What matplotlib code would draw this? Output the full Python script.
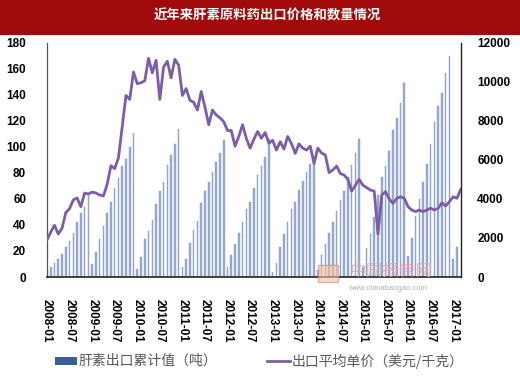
import matplotlib
matplotlib.use('Agg')
import matplotlib.pyplot as plt
from matplotlib.patches import Rectangle
from matplotlib.lines import Line2D

plt.rcParams['font.family'] = ['Liberation Sans', 'Noto Sans CJK SC', 'DejaVu Sans']

# ---- data ----
title = "近年来肝素原料药出口价格和数量情况"
bar_label = "肝素出口累计值（吨）"
line_label = "出口平均单价（美元/千克）"

vol_2008 = [5, 8, 10.5, 13.5, 18, 23, 28, 34, 42, 49, 54, 63]
vol_2009 = [10, 19, 29, 39, 49, 58, 68, 76, 85, 91, 100, 111]
vol_2010 = [6, 15, 29, 35, 44, 56, 66, 73, 86, 94, 102, 114]
vol_2011 = [8, 14, 26, 36, 43, 57, 66, 73, 81, 88, 95, 105]
vol_2012 = [8, 17, 25, 34, 42, 52, 58, 68, 78, 85, 92, 106]
vol_2013 = [4, 11, 23, 33, 42, 52, 58, 67, 74, 81, 87, 91]
vol_2014 = [5, 17, 25, 34, 42, 51, 59, 66, 77, 86, 95, 106]
vol_2015 = [8, 22, 33, 46, 63, 77, 85, 97, 113, 122, 134, 149]
vol_2016 = [16, 30, 47, 60, 73, 87, 102, 119, 131, 141, 157, 170]
vol_2017 = [14, 23]

price_2008 = [1900, 2300, 2650, 2200, 2500, 3300, 3500, 3950, 4050, 3600, 4300, 4250]
price_2009 = [4350, 4300, 4200, 4150, 4750, 5700, 5550, 6100, 7700, 9300, 9100, 10500]
price_2010 = [9900, 9950, 10050, 11200, 10450, 11100, 9100, 10750, 11050, 10200, 11150, 10850]
price_2011 = [9300, 9650, 9050, 8950, 8550, 9500, 8700, 7800, 8550, 8300, 8150, 7950]
price_2012 = [7500, 7500, 6700, 7200, 7800, 7100, 6600, 7050, 7450, 7100, 7400, 6850]
price_2013 = [7000, 6500, 6930, 6550, 7200, 6830, 6330, 6820, 6600, 6500, 6700, 5820]
price_2014 = [6600, 6350, 6250, 5350, 5480, 5680, 5300, 5220, 5000, 4400, 4700, 5000]
price_2015 = [4700, 4580, 4450, 4400, 2200, 4200, 4370, 4000, 3770, 4030, 4110, 4030]
price_2016 = [3600, 3430, 3350, 3430, 3350, 3430, 3520, 3430, 3520, 3800, 3640, 3860]
price_2017 = [4110, 4030, 4490]

tick_labels = ["2008-01", "2008-07", "2009-01", "2009-07", "2010-01", "2010-07",
               "2011-01", "2011-07", "2012-01", "2012-07", "2013-01", "2013-07",
               "2014-01", "2014-07", "2015-01", "2015-07", "2016-01", "2016-07",
               "2017-01"]

volume = (vol_2008 + vol_2009 + vol_2010 + vol_2011 + vol_2012 + vol_2013 +
          vol_2014 + vol_2015 + vol_2016 + vol_2017)
price = (price_2008 + price_2009 + price_2010 + price_2011 + price_2012 +
         price_2013 + price_2014 + price_2015 + price_2016 + price_2017)
xb = list(range(len(volume)))
xl = list(range(len(price)))

# ---- figure ----
W, H = 520, 381
fig = plt.figure(figsize=(W / 100, H / 100), dpi=100)
fig.patches.append(Rectangle((0, 1 - 35 / H), 1, 35 / H, transform=fig.transFigure,
                             facecolor='#a10a0a', edgecolor='none', zorder=0))
fig.text(267 / W, 1 - 16 / H, title, color='white', fontsize=9.6, fontweight='bold',
         ha='center', va='center', family=['Noto Sans CJK SC', 'DejaVu Sans'])

left, right, bottom, top = 47 / W, 460.7 / W, 1 - 277 / H, 1 - 42.7 / H
ax = fig.add_axes([left, bottom, right - left, top - bottom])
ax.bar(xb, volume, width=0.42, color='#9aaccc', edgecolor='#8a9dc2', linewidth=0.3, zorder=2)
ax.set_xlim(0, len(price) - 1)
ax.set_ylim(0, 180)
ax.set_yticks(range(0, 181, 20))
ax.set_yticklabels([str(v) for v in range(0, 181, 20)], fontsize=8.5, fontweight='bold')
ax.set_xticks(xl[::6])
ax.set_xticklabels(tick_labels, rotation=270, fontsize=8.5, fontweight='bold',
                   ha='center', va='top')
ax.tick_params(axis='y', length=0, pad=15)
ax.tick_params(axis='x', length=0, pad=16)
ax.spines['top'].set_visible(False)
ax.spines['left'].set_color('#555555')
ax.spines['left'].set_linewidth(0.9)
ax.spines['bottom'].set_color('#222222')
ax.spines['bottom'].set_linewidth(1.2)
ax.spines['right'].set_visible(False)

ax2 = ax.twinx()
ax2.plot(xl, price, color='#7d5ca8', linewidth=2.0, zorder=3, solid_joinstyle='round')
ax2.set_ylim(0, 12000)
ax2.set_yticks(range(0, 12001, 2000))
ax2.set_yticklabels([str(v) for v in range(0, 12001, 2000)], fontsize=8.5, fontweight='bold')
ax2.tick_params(axis='y', length=0, pad=12)
ax2.spines['top'].set_visible(False)
ax2.spines['left'].set_visible(False)
ax2.spines['bottom'].set_visible(False)
ax2.spines['right'].set_color('#222222')
ax2.spines['right'].set_linewidth(1.0)

# watermark
fig.text(391 / W, 1 - 271 / H, "中国报告网", color='#e9a3a3', alpha=0.75, fontsize=12,
         ha='center', va='center', family=['Noto Sans CJK SC', 'DejaVu Sans'], zorder=5)
fig.text(387 / W, 1 - 288 / H, "www.chinabaogao.com", color='#b0b0b0', fontsize=5.5,
         ha='center', va='center', zorder=5)
fig.patches.append(Rectangle((318 / W, 1 - 282 / H), 20 / W, 17 / H, transform=fig.transFigure,
                             facecolor='#f2c0a0', edgecolor='#e08080', alpha=0.6, zorder=5))

# legend (manual)
cjk = ['Noto Sans CJK SC', 'DejaVu Sans']
fig.patches.append(Rectangle((55 / W, 1 - 365 / H), 22 / W, 8 / H, transform=fig.transFigure,
                             facecolor='#3a5f95', edgecolor='none'))
fig.text(78 / W, 1 - 361 / H, bar_label, color='#595959', fontsize=10, ha='left',
         va='center', family=cjk)
fig.lines.append(Line2D([267 / W, 290 / W], [1 - 361 / H, 1 - 361 / H],
                        transform=fig.transFigure, color='#7d5ca8', linewidth=2.0))
fig.text(292 / W, 1 - 361 / H, line_label, color='#595959', fontsize=10, ha='left',
         va='center', family=cjk)

fig.savefig('out.png', dpi=100)
